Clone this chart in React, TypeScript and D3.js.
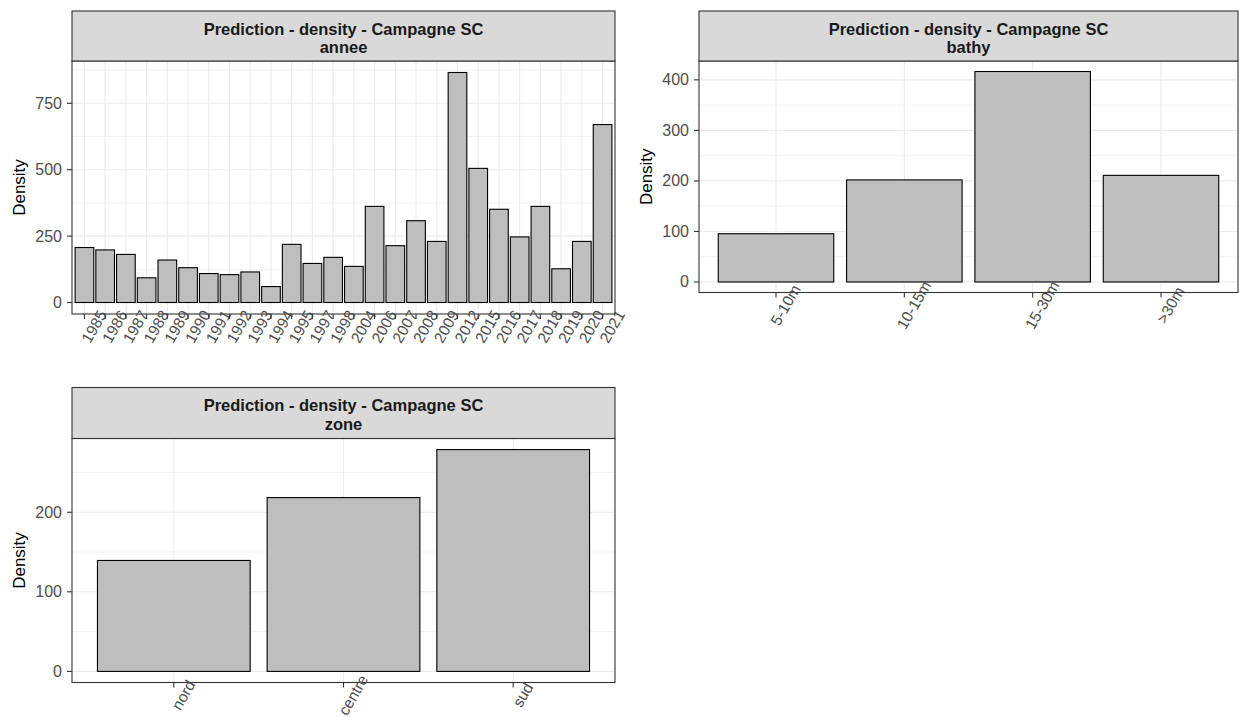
import React from 'react';
import * as d3 from 'd3';

const TITLE = 'Prediction - density - Campagne SC';

const anneeCats = ['1985','1986','1987','1988','1989','1990','1991','1992','1993','1994','1995','1997','1998','2004','2006','2007','2008','2009','2012','2015','2016','2017','2018','2019','2020','2021'];
const anneeVals = [207, 198, 181, 93, 160, 131, 109, 105, 115, 60, 219, 147, 170, 136, 362, 214, 308, 230, 866, 505, 351, 247, 362, 127, 230, 670];
const anneeTicks = [0, 250, 500, 750];

const bathyCats = ['5-10m', '10-15m', '15-30m', '>30m'];
const bathyVals = [95.5, 202, 416.5, 211];
const bathyTicks = [0, 100, 200, 300, 400];

const zoneCats = ['nord', 'centre', 'sud'];
const zoneVals = [139.4, 218.4, 278.7];
const zoneTicks = [0, 100, 200];

const FONT = '"Liberation Sans", Arial, sans-serif';

type PanelProps = {
  x0: number; x1: number; stripTop: number; stripBottom: number; plotBottom: number;
  facet: string; cats: string[]; vals: number[]; ticks: number[];
};

function Panel({ x0, x1, stripTop, stripBottom, plotBottom, facet, cats, vals, ticks }: PanelProps) {
  const M = d3.max(vals) as number;
  const y = d3.scaleLinear().domain([-0.05 * M, 1.05 * M]).range([plotBottom, stripBottom]);
  const x = d3.scalePoint<string>().domain(cats).range([x0, x1]).padding(0.6);
  const step = x.step();
  const bw = step * 0.9;
  const tstep = ticks[1] - ticks[0];
  const minor = ticks.map(t => t + tstep / 2).filter(t => t < 1.05 * M);
  const cx = (x0 + x1) / 2;
  return (
    <g>
      <rect x={x0} y={stripBottom} width={x1 - x0} height={plotBottom - stripBottom} fill="white" />
      {minor.map(t => (
        <line key={'mi' + t} x1={x0} x2={x1} y1={y(t)} y2={y(t)} stroke="#EBEBEB" strokeWidth={0.6} />
      ))}
      {ticks.map(t => (
        <line key={'ma' + t} x1={x0} x2={x1} y1={y(t)} y2={y(t)} stroke="#EBEBEB" strokeWidth={1.1} />
      ))}
      {cats.map(c => (
        <line key={'v' + c} x1={x(c)} x2={x(c)} y1={stripBottom} y2={plotBottom} stroke="#EBEBEB" strokeWidth={1.1} />
      ))}
      {cats.map((c, i) => (
        <rect key={'b' + c} x={(x(c) as number) - bw / 2} y={y(vals[i])} width={bw} height={y(0) - y(vals[i])}
          fill="#BEBEBE" stroke="black" strokeWidth={1.1} />
      ))}
      <rect x={x0} y={stripBottom} width={x1 - x0} height={plotBottom - stripBottom} fill="none" stroke="#333333" strokeWidth={1.1} />
      <rect x={x0} y={stripTop} width={x1 - x0} height={stripBottom - stripTop} fill="#D9D9D9" stroke="#333333" strokeWidth={1.1} />
      <text x={cx} y={stripTop + 23.8} textAnchor="middle" fontFamily={FONT} fontWeight="bold" fontSize={16.5} fill="#1A1A1A">{TITLE}</text>
      <text x={cx} y={stripTop + 42.4} textAnchor="middle" fontFamily={FONT} fontWeight="bold" fontSize={16.5} fill="#1A1A1A">{facet}</text>
      {ticks.map(t => (
        <g key={'yt' + t}>
          <line x1={x0 - 5} x2={x0} y1={y(t)} y2={y(t)} stroke="#333333" strokeWidth={1.1} />
          <text x={x0 - 10} y={y(t)} textAnchor="end" dominantBaseline="central" fontFamily={FONT} fontSize={16} fill="#4D4D4D">{t}</text>
        </g>
      ))}
      {cats.map(c => (
        <g key={'xt' + c}>
          <line x1={x(c)} x2={x(c)} y1={plotBottom} y2={plotBottom + 5} stroke="#333333" strokeWidth={1.1} />
          <text transform={`translate(${(x(c) as number) + 9.5},${plotBottom + 12.5}) rotate(-60)`} textAnchor="middle"
            dominantBaseline="central" fontFamily={FONT} fontSize={15.5} fill="#4D4D4D">{c}</text>
        </g>
      ))}
      <text transform={`translate(${x0 - 53},${(stripBottom + plotBottom) / 2}) rotate(-90)`} textAnchor="middle"
        dominantBaseline="central" fontFamily={FONT} fontSize={17} fill="black">Density</text>
    </g>
  );
}

export default function App() {
  return (
    <div style={{ position: 'fixed', left: 0, top: 0 }}>
      <svg width={1239} height={717} style={{ display: 'block', background: 'white' }}>
        <rect x={0} y={0} width={1239} height={717} fill="white" />
        <Panel x0={72} x1={615} stripTop={11} stripBottom={61} plotBottom={314} facet="annee"
          cats={anneeCats} vals={anneeVals} ticks={anneeTicks} />
        <Panel x0={699} x1={1238} stripTop={11} stripBottom={61} plotBottom={292.5} facet="bathy"
          cats={bathyCats} vals={bathyVals} ticks={bathyTicks} />
        <Panel x0={72} x1={615} stripTop={387.5} stripBottom={438.5} plotBottom={682.5} facet="zone"
          cats={zoneCats} vals={zoneVals} ticks={zoneTicks} />
      </svg>
    </div>
  );
}
